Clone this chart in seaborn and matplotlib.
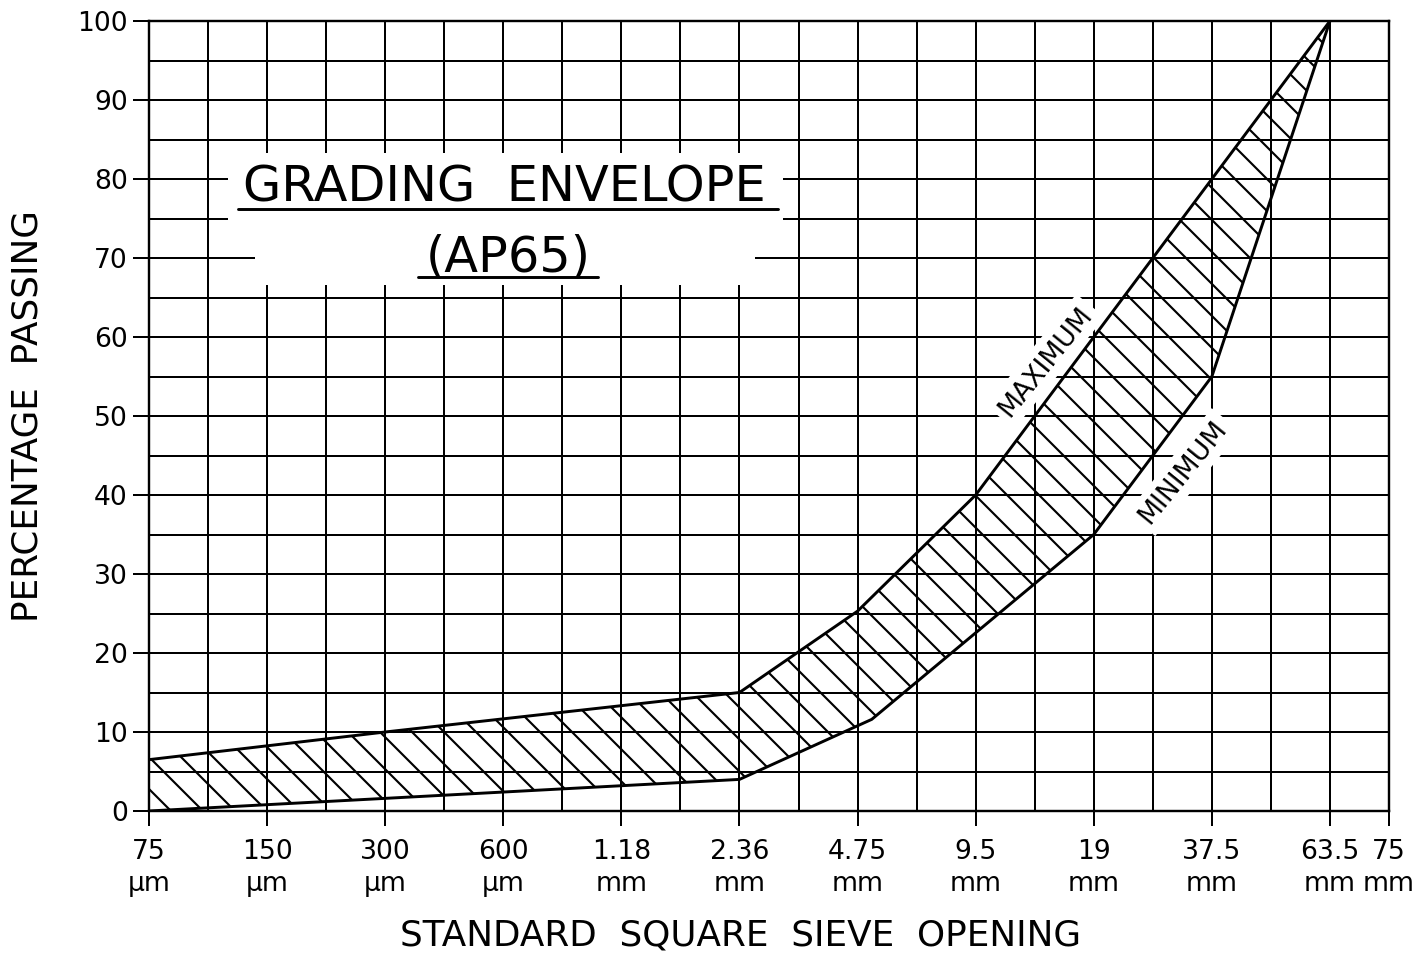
import numpy as np
import matplotlib.pyplot as plt
from matplotlib.patches import Rectangle
from matplotlib.lines import Line2D
import seaborn as sns

# sieve sizes along the x axis (equal steps, 75 mm sits half a step after 63.5 mm)
sieve_sizes = ['75', '150', '300', '600', '1.18', '2.36', '4.75', '9.5', '19', '37.5', '63.5', '75']
sieve_units = ['µm', 'µm', 'µm', 'µm', 'mm', 'mm', 'mm', 'mm', 'mm', 'mm', 'mm', 'mm']

# envelope limits, x = position on the sieve scale (0 = 75 µm ... 10 = 63.5 mm)
max_pos = [0, 2, 5, 6, 7, 8, 9, 10]
max_pass = [6.5, 10, 15, 25.3, 40, 60, 80, 100]
min_pos = [0, 2, 5, 6.12, 8, 9, 10]
min_pass = [0, 1.6, 4, 11.6, 35, 55, 100]

DPI = 192
sns.set_theme(style='ticks', rc={
    'axes.edgecolor': 'black', 'text.color': 'black', 'axes.labelcolor': 'black',
    'xtick.color': 'black', 'ytick.color': 'black', 'hatch.linewidth': 0.8,
})
plt.rcParams['font.family'] = ['DejaVu Sans']

fig = plt.figure(figsize=(1423 / DPI, 955 / DPI), dpi=DPI)
ax = fig.add_axes([149 / 1423, 1 - 811 / 955, 1240 / 1423, 790 / 955])

# hatched band between the two limits
env_x = np.concatenate([max_pos, min_pos[::-1]])
env_y = np.concatenate([max_pass, min_pass[::-1]])
ax.fill(env_x, env_y, facecolor='none', edgecolor='black', hatch='\\\\', linewidth=0, zorder=2)

sns.lineplot(x=max_pos, y=max_pass, color='black', lw=1.1, ax=ax, zorder=3)
sns.lineplot(x=min_pos, y=min_pass, color='black', lw=1.1, ax=ax, zorder=3)

# axes, ticks and grid
n = len(sieve_sizes)
xpos = list(np.arange(n - 1)) + [n - 1.5]
ax.set_xlim(0, n - 1.5)
ax.set_ylim(0, 100)
ax.set_xticks(xpos, [f'{s}\n{u}' for s, u in zip(sieve_sizes, sieve_units)])
ax.set_xticks(np.arange(0.5, n - 2, 1.0), minor=True)
ax.set_yticks(np.arange(0, 101, 10))
ax.set_yticks(np.arange(5, 100, 10), minor=True)
ax.tick_params(axis='x', which='major', length=5.6, width=0.75, pad=5, labelsize=10)
ax.tick_params(axis='y', which='major', length=6, width=0.75, pad=2, labelsize=10)
ax.tick_params(which='minor', length=0)
for lab in ax.get_xticklabels():
    lab.set_linespacing(1.3)
ax.grid(which='both', color='black', linewidth=0.75)
ax.set_axisbelow(True)
for sp in ax.spines.values():
    sp.set_visible(True)
    sp.set_linewidth(0.9)

ax.set_xlabel('STANDARD  SQUARE  SIEVE  OPENING', fontsize=13.4)
ax.xaxis.set_label_coords(0.4774, -0.157)
ax.xaxis.label.set_va('center')
ax.set_ylabel('PERCENTAGE  PASSING', fontsize=13.4)
ax.yaxis.set_label_coords(-0.0976, 0.5)
ax.yaxis.label.set_va('center')

# title block, blanked out of the grid
for x0, y0, w, h in [(0.0637, 0.7228, 0.4476, 0.1101), (0.0855, 0.6658, 0.4032, 0.0570)]:
    ax.add_patch(Rectangle((x0, y0), w, h, transform=ax.transAxes,
                           facecolor='white', edgecolor='none', zorder=1.5))
ax.text(0.2863, 0.7709, 'GRADING  ENVELOPE', transform=ax.transAxes,
        ha='center', va='baseline', fontsize=18.5, zorder=4)
ax.text(0.2895, 0.6823, '(AP65)', transform=ax.transAxes,
        ha='center', va='baseline', fontsize=18.5, zorder=4)
ax.add_line(Line2D([0.0718, 0.5073], [0.762, 0.762], transform=ax.transAxes,
                   color='black', lw=1.1, zorder=4))
ax.add_line(Line2D([0.2169, 0.3621], [0.676, 0.676], transform=ax.transAxes,
                   color='black', lw=1.1, zorder=4))

# curve labels
box = dict(boxstyle='square,pad=0.2', facecolor='white', edgecolor='none')
ax.text(7.59, 56.9, 'MAXIMUM', rotation=51, rotation_mode='anchor',
        ha='center', va='center', fontsize=10, bbox=box, zorder=2.5)
ax.text(8.76, 42.9, 'MINIMUM', rotation=51, rotation_mode='anchor',
        ha='center', va='center', fontsize=10, bbox=box, zorder=2.5)

fig.savefig('out.png', dpi=DPI)
